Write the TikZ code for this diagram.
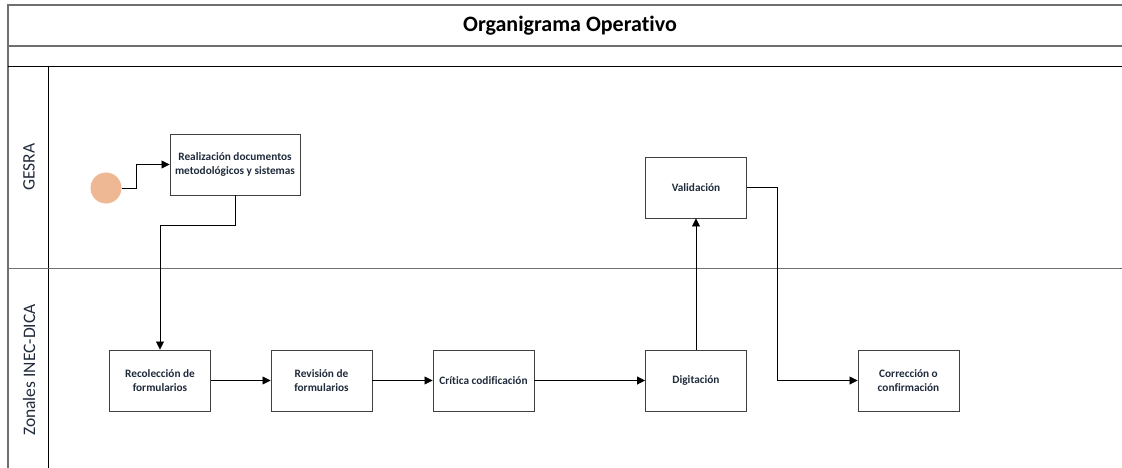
\documentclass[tikz,border=0pt]{standalone}
\usepackage{fontspec}
\setmainfont{Carlito}[Ligatures=NoCommon]
\usetikzlibrary{arrows.meta}
\definecolor{frame}{HTML}{6F6F6F}
\definecolor{startc}{HTML}{EFB894}
\definecolor{txt}{HTML}{1F2A3A}
\begin{document}
\begin{tikzpicture}[x=1pt,y=-1pt,
  task/.style={draw=black!75, line width=0.9pt, minimum width=101pt, minimum height=61pt,
    inner sep=2pt, align=center, font=\fontsize{11.3}{14.5}\selectfont\bfseries, text=txt},
  flow/.style={draw=black, line width=0.8pt, -{Triangle[length=8pt,width=8pt]}},
  plain/.style={draw=black, line width=0.8pt},
  lanelabel/.style={rotate=90, font=\fontsize{17.5}{20}\selectfont, text=txt}]
\useasboundingbox (0,0) rectangle (1122,468);
% frame
\draw[frame, line width=1.8pt] (8,468) -- (8,5) -- (1122,5);
\draw[frame, line width=1.5pt] (8,46) -- (1122,46);
\draw[black, line width=1pt] (8,66.5) -- (1122,66.5);
\draw[black, line width=1pt] (48.5,66.5) -- (48.5,468);
\draw[frame, line width=1.5pt] (8,268.5) -- (1122,268.5);
\node[font=\fontsize{22}{26}\selectfont\bfseries, text=black] (title) at (570,26) {Organigrama Operativo};
\node[lanelabel] (gesra) at (29,167) {GESRA};
\node[lanelabel] (zonales) at (29,370) {Zonales INEC-DICA};
% nodes
\node[circle, fill=startc, minimum size=31pt, inner sep=0pt] (start) at (106,188) {};
\node[task, minimum width=130pt] (real) at (235,164.5) {Realización documentos\\metodológicos y sistemas};
\node[task] (valid) at (696,187.5) {Validación};
\node[task] (recol) at (160,380.5) {Recolección de\\formularios};
\node[task] (revis) at (321.5,380.5) {Revisión de\\formularios};
\node[task] (crit) at (483.5,380.5) {Crítica codificación};
\node[task] (digit) at (696,380.5) {Digitación};
\node[task] (corr) at (908.5,380.5) {Corrección o\\confirmación};
% connectors
\draw[flow] (start.east) -- (136,188) |- (real.west);
\draw[flow] (real.south) -- (235,225) -| (recol.north);
\draw[flow] (recol) -- (revis);
\draw[flow] (revis) -- (crit);
\draw[flow] (crit) -- (digit);
\draw[flow] (digit) -- (valid);
\draw[flow] (valid.east) -- (777,187.5) |- (corr.west);
\end{tikzpicture}
\end{document}
